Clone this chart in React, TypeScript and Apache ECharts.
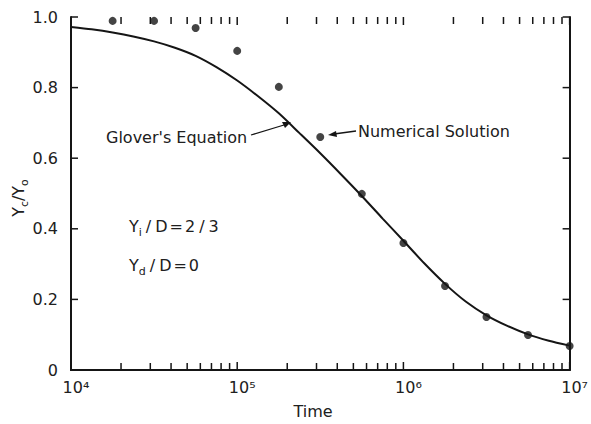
import React, { useEffect, useRef } from "react";
import * as echarts from "echarts";

// Numerical solution (dots)
const dotTimes = [17800, 31600, 56200, 100000, 178000, 316000, 562000, 1000000, 1780000, 3160000, 5620000, 10000000];
const dotValues = [0.989, 0.989, 0.969, 0.904, 0.802, 0.66, 0.499, 0.36, 0.238, 0.15, 0.099, 0.068];

// Glover's equation (curve)
const curveTimes = [
  10000, 13300, 17800, 23700, 31600, 42200, 56200, 75000, 100000, 133000, 178000, 237000, 316000,
  422000, 562000, 750000, 1000000, 1330000, 1780000, 2370000, 3160000, 4220000, 5620000, 7500000, 10000000,
];
const curveValues = [
  0.972, 0.965, 0.956, 0.945, 0.931, 0.913, 0.89, 0.858, 0.82, 0.776, 0.727, 0.671, 0.614,
  0.554, 0.493, 0.429, 0.366, 0.303, 0.244, 0.194, 0.155, 0.125, 0.101, 0.083, 0.069,
];

const xTickLabels = ["10⁴", "10⁵", "10⁶", "10⁷"];
const yTickLabels = ["0", "0.2", "0.4", "0.6", "0.8", "1.0"];
const xMajorTicks = [10000, 100000, 1000000, 10000000];
const yMajorTicks = [0, 0.2, 0.4, 0.6, 0.8, 1.0];
const decades = [10000, 100000, 1000000];
const minorMultipliers = [2, 3, 4, 5, 6, 7, 8, 9];

const INK = "#151515";
const TXT = "#202020";
const FONT = "DejaVu Sans";
const FS = 16;

export default function App() {
  const ref = useRef<HTMLDivElement>(null);
  useEffect(() => {
    if (!ref.current) return;
    const chart = echarts.init(ref.current, undefined, { renderer: "svg" });
    const minorX: number[] = [];
    decades.forEach((d) => minorMultipliers.forEach((m) => minorX.push(d * m)));

    const axisLine = { show: true, lineStyle: { color: INK, width: 2 } };
    const xBase = {
      type: "log" as const,
      logBase: 10,
      min: 10000,
      max: 10000000,
      axisLine,
      splitLine: { show: false },
      axisTick: { show: false },
    };
    const yBase = {
      type: "value" as const,
      min: 0,
      max: 1,
      interval: 0.2,
      axisLine,
      splitLine: { show: false },
      axisTick: { show: false },
    };
    const richG = {
      m: { fontSize: FS, fontFamily: FONT, lineHeight: 24, fill: TXT },
      p: { fontSize: FS, fontFamily: FONT, lineHeight: 24, fill: TXT, padding: [0, 4, 0, 4] },
      q: { fontSize: FS, fontFamily: FONT, lineHeight: 24, fill: TXT, padding: [0, 2, 0, 2] },
      s: { fontSize: 11, fontFamily: FONT, verticalAlign: "bottom", fill: TXT },
    };
    const plain = (text: string, x: number, y: number, align: string) => ({
      type: "text",
      x,
      y,
      style: {
        text,
        fontSize: FS,
        fontFamily: FONT,
        fill: TXT,
        align,
        verticalAlign: "middle",
        textAlign: align,
        textVerticalAlign: "middle",
      },
    });
    const richText = (text: string, x: number, y: number, align: string, rotation = 0) => ({
      type: "text",
      x,
      y,
      rotation,
      style: {
        text,
        align,
        verticalAlign: "middle",
        textAlign: align,
        textVerticalAlign: "middle",
        fill: TXT,
        rich: richG,
      },
    });

    const baseGraphic: any[] = [
      richText("{m|Y}{s|c}{m|/Y}{s|o}", 18, 198, "center", Math.PI / 2),
      plain("Time", 313, 411, "center"),
      plain("Glover's Equation", 106, 137, "left"),
      plain("Numerical Solution", 358, 131, "left"),
      richText("{m|Y}{s|i}{p|/}{m|D}{q|=}{m|2}{p|/}{m|3}", 129, 226, "left"),
      richText("{m|Y}{s|d}{p|/}{m|D}{q|=}{m|0}", 129, 265, "left"),
      // arrow: Glover's Equation
      { type: "line", shape: { x1: 251, y1: 135, x2: 284, y2: 125 }, style: { stroke: INK, lineWidth: 1.3 } },
      { type: "polygon", shape: { points: [[291, 122], [282, 122], [285, 128]] }, style: { fill: INK } },
      // arrow: Numerical Solution
      { type: "line", shape: { x1: 356, y1: 131, x2: 334, y2: 134 }, style: { stroke: INK, lineWidth: 1.3 } },
      { type: "polygon", shape: { points: [[328, 135], [336, 131], [337, 137]] }, style: { fill: INK } },
    ];

    chart.setOption({
      animation: false,
      backgroundColor: "#ffffff",
      grid: { left: 71, right: 11, top: 17, bottom: 54, containLabel: false },
      xAxis: [
        {
          ...xBase,
          position: "bottom",
          axisLabel: {
            show: true,
            margin: 9,
            fontSize: FS,
            fontFamily: FONT,
            color: TXT,
            padding: [0, 0, 0, 10],
            formatter: (v: number) => xTickLabels[Math.round(Math.log10(v)) - 4] ?? "",
          },
        },
        { ...xBase, position: "top", axisLabel: { show: false } },
      ],
      yAxis: [
        {
          ...yBase,
          position: "left",
          axisLabel: {
            show: true,
            margin: 13,
            fontSize: FS,
            fontFamily: FONT,
            color: TXT,
            formatter: (v: number) => yTickLabels[Math.round(v * 5)] ?? "",
          },
        },
        { ...yBase, position: "right", axisLabel: { show: false } },
      ],
      series: [
        {
          name: "Glover's Equation",
          type: "line",
          data: curveTimes.map((t, i) => [t, curveValues[i]]),
          smooth: 0.25,
          showSymbol: false,
          lineStyle: { color: INK, width: 2 },
          silent: true,
          z: 3,
        },
        {
          name: "Numerical Solution",
          type: "scatter",
          data: dotTimes.map((t, i) => [t, dotValues[i]]),
          symbol: "circle",
          symbolSize: 8,
          itemStyle: { color: INK },
          silent: true,
          clip: false,
          z: 4,
        },
      ],
      graphic: baseGraphic,
    });

    // tick marks positioned through the chart's own scales
    const toPx = (x: number, y: number) =>
      chart.convertToPixel({ xAxisIndex: 0, yAxisIndex: 0 }, [x, y]) as number[];
    const st = { stroke: INK, lineWidth: 1.5 };
    const ticks: any[] = [];
    const addV = (t: number, len: number) => {
      const b = toPx(t, 0);
      const tp = toPx(t, 1);
      ticks.push({ type: "line", shape: { x1: b[0], y1: b[1], x2: b[0], y2: b[1] - len }, style: st });
      ticks.push({ type: "line", shape: { x1: tp[0], y1: tp[1], x2: tp[0], y2: tp[1] + len }, style: st });
    };
    xMajorTicks.forEach((t) => addV(t, 8));
    minorX.forEach((t) => addV(t, 7));
    yMajorTicks.forEach((v) => {
      const l = toPx(10000, v);
      const r = toPx(10000000, v);
      ticks.push({ type: "line", shape: { x1: l[0], y1: l[1], x2: l[0] + 7, y2: l[1] }, style: st });
      ticks.push({ type: "line", shape: { x1: r[0], y1: r[1], x2: r[0] - 7, y2: r[1] }, style: st });
    });
    chart.setOption({ graphic: [...baseGraphic, ...ticks] });

    return () => chart.dispose();
  }, []);
  return (
    <div
      ref={ref}
      style={{ position: "absolute", left: 0, top: 0, width: 591, height: 424, background: "#fff" }}
    />
  );
}
